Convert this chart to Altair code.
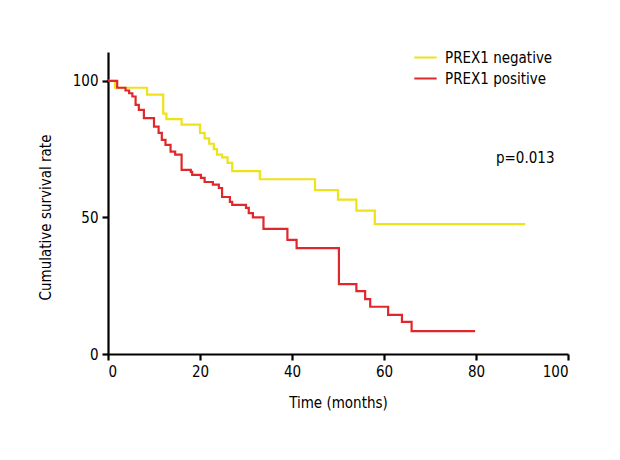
import altair as alt
import pandas as pd

# PREX1 negative (yellow) Kaplan-Meier steps
neg_t = [0, 1.5, 8.5, 12, 12.7, 16, 20, 21, 22, 23, 23.7, 24.8, 26, 27, 33, 45, 50, 54, 58, 90.7]
neg_s = [100, 97.5, 95, 88, 86, 84, 81, 79, 77, 75, 73, 72, 70, 67, 64, 60, 56.5, 52.5, 47.6, 47.6]

# PREX1 positive (red) Kaplan-Meier steps
pos_t = [0, 2, 3.8, 4.6, 5.3, 6.0, 6.7, 7.8, 10, 11, 11.7, 12.5, 13.6, 14.6, 16, 18, 18.3, 20.2, 21,
         22.8, 24.1, 24.8, 26.5, 27, 30, 30.6, 31.5, 33.8, 39, 41, 50.2, 54, 55.9, 57, 60.9, 63.9, 66, 79.8]
pos_s = [100, 97.5, 96.5, 95.5, 94.3, 91.2, 89.4, 86.4, 83.3, 81, 78.4, 76.6, 74.1, 73, 67.4, 66.7, 65.6,
         64.5, 63, 62, 60.8, 57.5, 55.7, 54.6, 53.5, 51.6, 50, 45.8, 41.8, 38.8, 25.6, 23, 20.1, 17.3,
         14.3, 11.8, 8.4, 8.4]

groups = ["PREX1 negative", "PREX1 positive"]
colors = ["#EEE21A", "#E0282C"]

x_ticks = [0, 20, 40, 60, 80, 100]
y_ticks = [0, 50, 100]

annot_text = ["p=0.013"]
annot_t = [90.7]
annot_s = [71.8]

FONT = "DejaVu Sans Condensed"
FS = 15

rows = []
for t, s in zip(neg_t, neg_s):
    rows.append({"time": t, "surv": s, "group": groups[0]})
for t, s in zip(pos_t, pos_s):
    rows.append({"time": t, "surv": s, "group": groups[1]})
df = pd.DataFrame(rows)

ann = pd.DataFrame({"time": annot_t, "surv": annot_s, "label": annot_text})

xscale = alt.Scale(domain=[0, 100], nice=False, zero=False)
yscale = alt.Scale(domain=[0, 110.6], nice=False, zero=False)

lines = alt.Chart(df).mark_line(interpolate="step-after", strokeWidth=2.2).encode(
    x=alt.X("time:Q", scale=xscale,
            axis=alt.Axis(values=x_ticks, title="Time (months)", grid=False,
                          domainColor="black", domainWidth=2.2, tickColor="black",
                          tickWidth=2.2, tickSize=6, labelFontSize=FS, titleFontSize=FS,
                          labelColor="black", titleColor="black", labelFont=FONT,
                          titleFont=FONT, titleFontWeight="normal", labelPadding=4,
                          titlePadding=16)),
    y=alt.Y("surv:Q", scale=yscale,
            axis=alt.Axis(values=y_ticks, title="Cumulative survival rate", grid=False,
                          domainColor="black", domainWidth=2.2, tickColor="black",
                          tickWidth=2.2, tickSize=6, labelFontSize=FS, titleFontSize=FS,
                          labelColor="black", titleColor="black", labelFont=FONT,
                          titleFont=FONT, titleFontWeight="normal", labelPadding=4,
                          titlePadding=19, titleY=165)),
    color=alt.Color("group:N", scale=alt.Scale(domain=groups, range=colors),
                    legend=alt.Legend(title=None, orient="none", legendX=305, legendY=-7,
                                      symbolType="stroke", symbolSize=500,
                                      symbolStrokeWidth=2, labelFontSize=FS,
                                      labelFont=FONT, labelColor="black",
                                      labelOffset=7, rowPadding=0)),
    order=alt.Order("time:Q"),
)

text = alt.Chart(ann).mark_text(fontSize=FS, font=FONT, color="black").encode(
    x=alt.X("time:Q", scale=xscale),
    y=alt.Y("surv:Q", scale=yscale),
    text="label:N",
)

chart = (lines + text).properties(
    width=460, height=302,
    background="white",
    autosize=alt.AutoSizeParams(type="none"),
    padding={"left": 100, "top": 44, "right": 40, "bottom": 80},
).configure_view(stroke=None)

chart.save("out.html", embed_options={"renderer": "svg", "actions": False})
